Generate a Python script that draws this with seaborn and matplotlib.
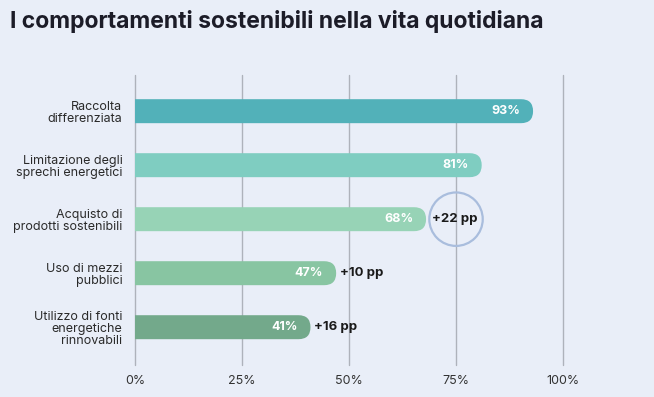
import matplotlib
matplotlib.use("Agg")
import matplotlib.pyplot as plt
import seaborn as sns
import pandas as pd
from matplotlib.patches import FancyBboxPatch

# Dati
categorie = ["Raccolta\ndifferenziata",
             "Limitazione degli\nsprechi energetici",
             "Acquisto di\nprodotti sostenibili",
             "Uso di mezzi\npubblici",
             "Utilizzo di fonti\nenergetiche\nrinnovabili"]
valori = [93, 81, 68, 47, 41]
variazioni = ["", "", "+22 pp", "+10 pp", "+16 pp"]
colori = ["#52b1b9", "#7fcdc1", "#97d3b6", "#88c5a2", "#73a98b"]
tick_pct = [0, 25, 50, 75, 100]

df = pd.DataFrame({"categoria": categorie, "valore": valori})

sns.set_style("white")
plt.rcParams["font.family"] = ["Inter", "DejaVu Sans"]
bg = "#e9eef8"

fig = plt.figure(figsize=(6.54, 3.97), dpi=100, facecolor=bg)
ax = fig.add_axes([0.2064, 0.0806, 0.6545, 0.7305], facecolor=bg)

sns.barplot(data=df, x="valore", y="categoria", hue="categoria", palette=colori,
            saturation=1, legend=False, width=0.444, ax=ax, orient="h")

ax.set_xlim(0, 100)
ax.set_ylim(4.7, -0.67)

# Sostituisce le barre con barre arrotondate a destra
px_x = 100 / 428.0
px_y = 1 / 54.0
r = 12 * px_x
for p in list(ax.patches):
    x0, y0, w, h = p.get_x(), p.get_y(), p.get_width(), p.get_height()
    col = p.get_facecolor()
    p.remove()
    fb = FancyBboxPatch((x0 - 5, y0), w + 5, h,
                        boxstyle=f"round,pad=0,rounding_size={r}",
                        mutation_aspect=px_y / px_x,
                        facecolor=col, edgecolor="none", zorder=3, clip_on=True)
    ax.add_patch(fb)

# Griglia verticale
for t in tick_pct:
    ax.axvline(t, color="#aeb2bb", lw=1.0, zorder=1, clip_on=False)

for i, (v, d) in enumerate(zip(valori, variazioni)):
    ax.text(v - 13 * px_x, i, f"{v}%", ha="right", va="center", color="white",
            fontsize=9, fontweight="bold", zorder=4)
    if d:
        if i == 2:
            ax.scatter([75], [i], s=1480, facecolors="none", edgecolors="#a9bddd",
                       linewidths=1.6, zorder=4, clip_on=False)
            ax.text(74.6, i, d, ha="center", va="center", color="#1a1a1a",
                    fontsize=9.5, fontweight="bold", zorder=5)
        else:
            ax.text(v + 4 * px_x, i, d, ha="left", va="center", color="#1a1a1a",
                    fontsize=9.5, fontweight="bold", zorder=5)

ax.set_xticks(tick_pct)
ax.set_xticklabels([f"{t}%" for t in tick_pct], fontsize=9, color="#333333")
ax.set_yticks(range(len(categorie)))
ax.set_yticklabels(categorie, fontsize=9, color="#2a2a2a", linespacing=1.0,
                   multialignment="right")
ax.tick_params(axis="both", length=0)
ax.tick_params(axis="y", pad=9)
ax.tick_params(axis="x", pad=7)
ax.set_xlabel("")
ax.set_ylabel("")
sns.despine(ax=ax, left=True, bottom=True)

fig.text(0.015, 0.945, "I comportamenti sostenibili nella vita quotidiana",
         fontsize=16.5, fontweight="bold", color="#1c1c28", ha="left", va="center")

fig.savefig("out.png", dpi=100, facecolor=bg)
